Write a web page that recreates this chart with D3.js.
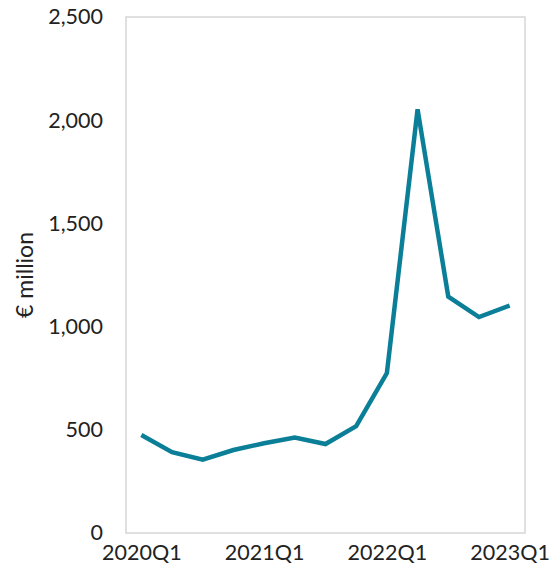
<!DOCTYPE html>
<html>
<head>
<meta charset="utf-8">
<script src="https://cdn.jsdelivr.net/npm/d3@7"></script>
<style>
  html, body { margin: 0; padding: 0; background: #fff; }
  svg { display: block; }
  text { font-family: Lato, "Open Sans", sans-serif; fill: #222; }
</style>
</head>
<body>
<svg id="chart" width="560" height="583"></svg>
<script>
// Quarterly values, € million
const quarters = ["2020Q1","2020Q2","2020Q3","2020Q4","2021Q1","2021Q2","2021Q3","2021Q4",
                  "2022Q1","2022Q2","2022Q3","2022Q4","2023Q1"];
const values = [475, 392, 355, 402, 435, 463, 431, 518, 775, 2053, 1145, 1046, 1102];
const xTickLabels = ["2020Q1","2021Q1","2022Q1","2023Q1"];
const yTicks = [0, 500, 1000, 1500, 2000, 2500];
const yTitle = "€ million";

const svg = d3.select("#chart");
const plot = { left: 126, right: 525, top: 17, bottom: 533 };

const x = d3.scalePoint()
  .domain(quarters)
  .range([plot.left, plot.right])
  .padding(0.5);

const y = d3.scaleLinear()
  .domain([0, 2500])
  .range([plot.bottom, plot.top]);

// Plot frame
svg.append("rect")
  .attr("x", plot.left)
  .attr("y", plot.top)
  .attr("width", plot.right - plot.left)
  .attr("height", plot.bottom - plot.top)
  .attr("fill", "none")
  .attr("stroke", "#d6d6d6")
  .attr("stroke-width", 1.5);

// Y axis labels
const yAxis = d3.axisLeft(y)
  .tickValues(yTicks)
  .tickSize(0)
  .tickPadding(23)
  .tickFormat(d3.format(","));
const gy = svg.append("g")
  .attr("transform", `translate(${plot.left},0)`)
  .call(yAxis);
gy.select(".domain").remove();
gy.selectAll("text")
  .attr("font-size", 21.5)
  .attr("font-family", "Lato, sans-serif")
  .attr("fill", "#222");

// X axis labels
const xAxis = d3.axisBottom(x)
  .tickValues(xTickLabels)
  .tickSize(0)
  .tickPadding(12);
const gx = svg.append("g")
  .attr("transform", `translate(0,${plot.bottom})`)
  .call(xAxis);
gx.select(".domain").remove();
gx.selectAll("text")
  .attr("font-size", 21.5)
  .attr("font-family", "Lato, sans-serif")
  .attr("fill", "#222");

// Y axis title
svg.append("text")
  .attr("transform", `translate(24,${(plot.top + plot.bottom) / 2}) rotate(-90)`)
  .attr("text-anchor", "middle")
  .attr("dominant-baseline", "central")
  .attr("font-size", 23)
  .text(yTitle);

// Series line
const line = d3.line()
  .x((d, i) => x(quarters[i]))
  .y(d => y(d));

svg.append("path")
  .datum(values)
  .attr("d", line)
  .attr("fill", "none")
  .attr("stroke", "#0b7f98")
  .attr("stroke-width", 4.5)
  .attr("stroke-linejoin", "miter")
  .attr("stroke-linecap", "butt");
</script>
</body>
</html>
